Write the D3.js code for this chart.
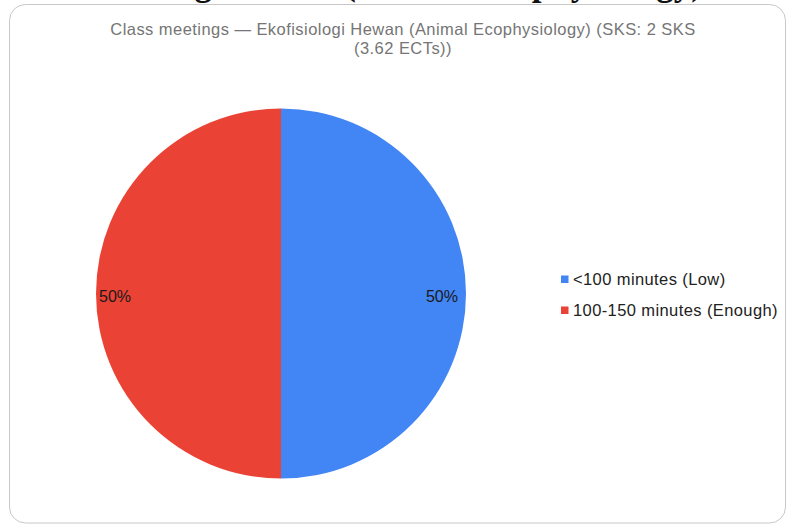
<!DOCTYPE html>
<html><head><meta charset="utf-8">
<script src="https://cdn.jsdelivr.net/npm/d3@7"></script>
<style>html,body{margin:0;padding:0;background:#fff;overflow:hidden}svg{display:block}</style>
</head><body>
<svg id="c" width="787" height="526"></svg>
<script>
const categories = ["<100 minutes (Low)", "100-150 minutes (Enough)"];
const values = [50, 50];
const colors = ["#4285F4", "#EA4335"];
const titleLines = ["Class meetings — Ekofisiologi Hewan (Animal Ecophysiology) (SKS: 2 SKS", "(3.62 ECTs))"];
const headingText = "Class meetings — Ekofisiologi Hewan (Animal Ecophysiology)";

const svg = d3.select("#c");
// cut-off page heading above the card
svg.append("text").attr("x", 703).attr("y", -5).attr("text-anchor", "end")
  .attr("font-family", "Liberation Serif, Times New Roman, serif").attr("font-weight", "bold")
  .attr("font-size", 35).attr("fill", "#111").text(headingText);
// card
svg.append("rect").attr("x", 9.5).attr("y", 4.5).attr("width", 776).attr("height", 518.5)
  .attr("rx", 16).attr("fill", "#fff").attr("stroke", "#c8c8c8").attr("stroke-width", 1);

// title
svg.selectAll("text.title").data(titleLines).join("text").attr("class", "title")
  .attr("x", 403).attr("y", (d, i) => 35 + i * 18.5).attr("text-anchor", "middle")
  .attr("font-family", "Liberation Sans, Arial, sans-serif").attr("font-size", 16.5)
  .attr("letter-spacing", 0.45)
  .attr("fill", "#757575").text(d => d);

const cx = 281, cy = 293.5, r = 185;
const pie = d3.pie().sort(null).value(d => d)(values);
const arc = d3.arc().innerRadius(0).outerRadius(r);
const g = svg.append("g").attr("transform", `translate(${cx},${cy})`);
g.selectAll("path").data(pie).join("path").attr("d", arc)
  .attr("fill", (d, i) => colors[i]).attr("stroke", "none");

// labels
const total = d3.sum(values);
g.selectAll("text.lab").data(pie).join("text").attr("class", "lab")
  .attr("x", (d, i) => i === 0 ? r - 8 : -r + 3)
  .attr("y", 8)
  .attr("text-anchor", (d, i) => i === 0 ? "end" : "start")
  .attr("font-family", "Liberation Sans, Arial, sans-serif").attr("font-size", 16)
  .attr("fill", "#1a1a1a").text(d => Math.round(d.data / total * 100) + "%");

// legend
const leg = svg.append("g");
const items = leg.selectAll("g").data(categories).join("g")
  .attr("transform", (d, i) => `translate(561,${279.5 + i * 31})`);
items.append("rect").attr("x", 0).attr("y", -4).attr("width", 7.5).attr("height", 7.5)
  .attr("fill", (d, i) => colors[i]);
items.append("text").attr("x", 12).attr("y", 5.5)
  .attr("font-family", "Liberation Sans, Arial, sans-serif").attr("font-size", 16.5)
  .attr("letter-spacing", 0.4)
  .attr("fill", "#222").text(d => d);
</script>
</body></html>
